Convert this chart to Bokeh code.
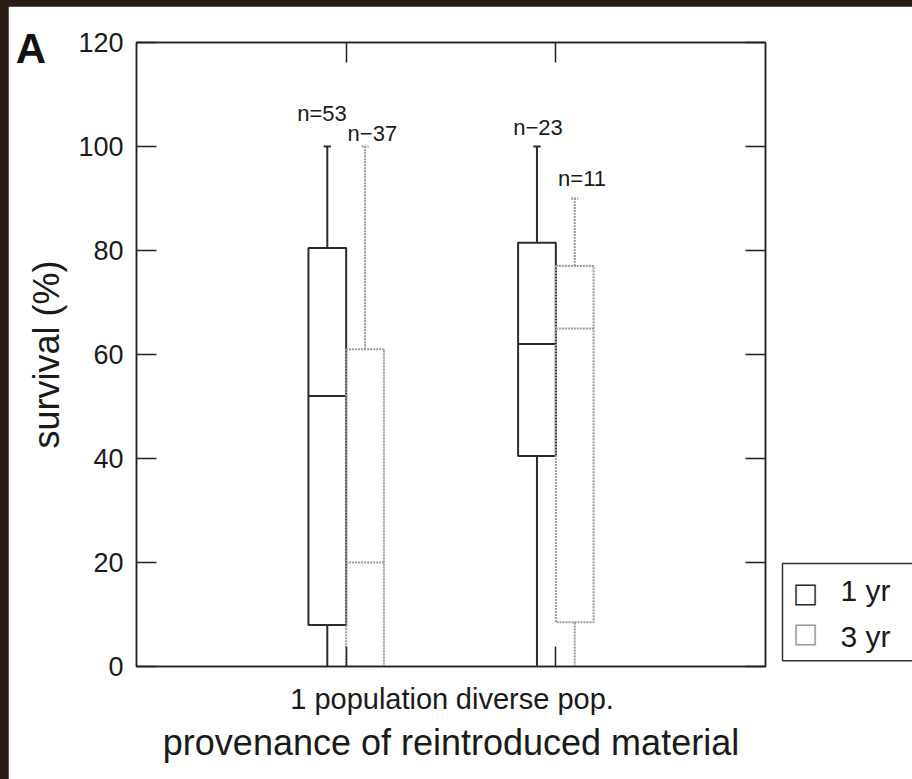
from bokeh.plotting import figure
from bokeh.models import (Range1d, LinearAxis, FixedTicker, Label, ColumnDataSource)
from bokeh.layouts import column
from bokeh.core.properties import value
from bokeh.embed import file_html
from bokeh.resources import INLINE

# ---------------- data ----------------
groups = ["1 population", "diverse pop."]
group_pos = [1, 2]

yr1_min = [0, 0]
yr1_q1 = [8, 40.5]
yr1_med = [52, 62]
yr1_q3 = [80.5, 81.5]
yr1_max = [100, 100]
yr1_n = ["n=53", "n\u221223"]

yr3_min = [0, 0]
yr3_q1 = [0, 8.5]
yr3_med = [20, 65]
yr3_q3 = [61, 77]
yr3_max = [100, 90]
yr3_n = ["n\u221237", "n=11"]

y_ticks = [0, 20, 40, 60, 80, 100, 120]
series_names = ["1 yr", "3 yr"]

# ---------------- layout constants ----------------
FONT = "Liberation Sans"
TXT = "#1a1a1a"
DODGE = 0.09
BOX_W = 0.18
CAP_W = 0.035
C1 = "#2b2b2b"
C3 = "#9a9a9a"
DASH3 = "2 1"
n_dx_1 = [-0.025, 0.005]
n_dy_1 = [6.3, 3.6]
n_dx_3 = [0.035, 0.035]
n_dy_3 = [2.5, 3.8]

p = figure(frame_width=629, frame_height=624, output_backend="svg", toolbar_location=None,
           x_range=Range1d(0, 3), y_range=Range1d(0, 120),
           min_border_left=128, min_border_right=147, min_border_top=36, min_border_bottom=113,
           background_fill_color="white", border_fill_color="white")
p.margin = (6, 0, 0, 8)
p.grid.visible = False
p.outline_line_color = "#222222"
p.outline_line_width = 1.5

xb = p.below[0]
yl = p.left[0]


def series_source(offset, q1, med, q3, lo, hi):
    xs = [g + offset for g in group_pos]
    return ColumnDataSource(dict(x=xs, q1=q1, med=med, q3=q3, lo=lo, hi=hi,
                                 x0=[x - BOX_W / 2 for x in xs], x1=[x + BOX_W / 2 for x in xs],
                                 c0=[x - CAP_W / 2 for x in xs], c1=[x + CAP_W / 2 for x in xs]))


def draw_series(src, color, dash, lw):
    kw = dict(line_color=color, line_dash=dash, line_width=lw)
    p.segment("x", "q3", "x", "hi", source=src, **kw)
    p.segment("x", "lo", "x", "q1", source=src, **kw)
    p.segment("c0", "hi", "c1", "hi", source=src, **kw)
    p.segment("x0", "med", "x1", "med", source=src, **kw)
    p.vbar(x="x", width=BOX_W, top="q3", bottom="q1", source=src, fill_color=None, **kw)


src1 = series_source(-DODGE, yr1_q1, yr1_med, yr1_q3, yr1_min, yr1_max)
src3 = series_source(DODGE, yr3_q1, yr3_med, yr3_q3, yr3_min, yr3_max)
draw_series(src1, C1, "solid", 2)
draw_series(src3, C3, DASH3, 2)
xs1 = src1.data["x"]
xs3 = src3.data["x"]

# n labels
p.text(x=[x + d for x, d in zip(xs1, n_dx_1)], y=[m + d for m, d in zip(yr1_max, n_dy_1)],
       text=yr1_n, text_font=value(FONT), text_font_size="22px", text_color=TXT,
       text_align="center", text_baseline="middle")
p.text(x=[x + d for x, d in zip(xs3, n_dx_3)], y=[m + d for m, d in zip(yr3_max, n_dy_3)],
       text=yr3_n, text_font=value(FONT), text_font_size="22px", text_color=TXT,
       text_align="center", text_baseline="middle")


# ---------------- axes ----------------
def style_ticks(ax):
    ax.major_tick_in = 20
    ax.major_tick_out = 0
    ax.minor_tick_line_color = None
    ax.major_tick_line_color = "#222222"
    ax.major_tick_line_width = 1.5
    ax.axis_line_color = "#222222"
    ax.axis_line_width = 1.5


def hide_labels(ax, ticks):
    ax.major_label_overrides = {t: "" for t in ticks}
    ax.major_label_text_font_size = "1px"
    ax.major_label_text_color = None
    ax.major_label_standoff = 0


# left
yl.ticker = FixedTicker(ticks=y_ticks)
style_ticks(yl)
yl.major_label_text_font = FONT
yl.major_label_text_font_size = "27px"
yl.major_label_text_color = TXT
yl.major_label_standoff = 13
yl.axis_label = "survival (%)"
yl.axis_label_text_font = FONT
yl.axis_label_text_font_size = "36px"
yl.axis_label_text_font_style = "normal"
yl.axis_label_text_color = TXT
yl.axis_label_standoff = 8

# bottom: ticks only
xb.ticker = FixedTicker(ticks=group_pos)
style_ticks(xb)
hide_labels(xb, group_pos)

# right
yr = LinearAxis(ticker=FixedTicker(ticks=y_ticks))
style_ticks(yr)
hide_labels(yr, y_ticks)
p.add_layout(yr, "right")

# top
xt = LinearAxis(ticker=FixedTicker(ticks=group_pos))
style_ticks(xt)
hide_labels(xt, group_pos)
p.add_layout(xt, "above")

# bottom: labels
label_pos = [1.11, 1.90]
xl = LinearAxis(ticker=FixedTicker(ticks=label_pos))
xl.major_label_overrides = {label_pos[i]: groups[i] for i in range(len(groups))}
xl.major_tick_line_color = None
xl.minor_tick_line_color = None
xl.axis_line_color = None
xl.major_tick_out = 0
xl.major_tick_in = 0
xl.major_label_text_font = FONT
xl.major_label_text_font_size = "29px"
xl.major_label_text_color = TXT
xl.major_label_standoff = 16
xl.axis_label = "provenance of reintroduced material"
xl.axis_label_text_font = FONT
xl.axis_label_text_font_size = "36px"
xl.axis_label_text_font_style = "normal"
xl.axis_label_text_color = TXT
xl.axis_label_standoff = 4
p.add_layout(xl, "below")

# ---------------- annotations outside the frame (side panel, canvas units) ----------------
p.add_layout(Label(x=22.5, y=42, x_units="canvas", y_units="canvas", text="A",
                   text_font=FONT, text_font_size="42px",
                   text_font_style="bold", text_color="#111111",
                   text_align="center", text_baseline="middle"), "below")

# legend box with the series names
leg_box = Label(x=774, y=557, x_units="canvas", y_units="canvas",
                text="\n".join(series_names),
                text_font=FONT, text_font_size="30px", text_color=TXT,
                text_align="left", text_baseline="top", text_line_height=1.4,
                border_line_color="#333333", border_line_width=1.5,
                background_fill_color="white")
try:
    leg_box.padding = dict(left=58, right=40, top=10, bottom=8)
except Exception:
    leg_box.padding = 8
p.add_layout(leg_box, "below")

# legend markers
for mark_y, mark_color in zip([586, 626], [C1, C3]):
    p.add_layout(Label(x=797, y=mark_y, x_units="canvas", y_units="canvas",
                       text="\u25a1", text_font="DejaVu Sans", text_font_size="27px",
                       text_color=mark_color, text_align="center", text_baseline="middle"),
                 "below")

layout = column(p, styles={"background-color": "#2a1b15"})

open("out.html", "w").write(file_html(layout, INLINE))
